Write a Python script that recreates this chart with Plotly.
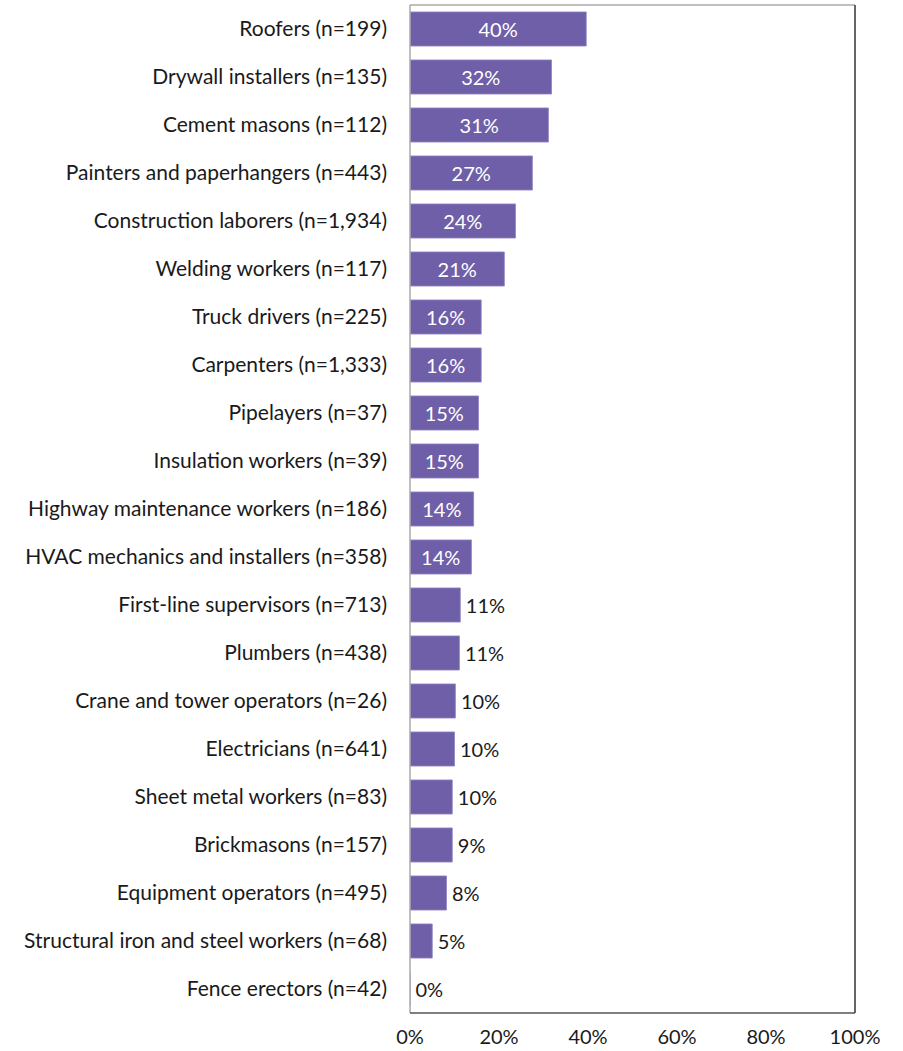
import plotly.graph_objects as go

categories = [
    "Roofers (n=199)", "Drywall installers (n=135)", "Cement masons (n=112)",
    "Painters and paperhangers (n=443)", "Construction laborers (n=1,934)",
    "Welding workers (n=117)", "Truck drivers (n=225)", "Carpenters (n=1,333)",
    "Pipelayers (n=37)", "Insulation workers (n=39)",
    "Highway maintenance workers (n=186)", "HVAC mechanics and installers (n=358)",
    "First-line supervisors (n=713)", "Plumbers (n=438)",
    "Crane and tower operators (n=26)", "Electricians (n=641)",
    "Sheet metal workers (n=83)", "Brickmasons (n=157)",
    "Equipment operators (n=495)", "Structural iron and steel workers (n=68)",
    "Fence erectors (n=42)",
]
values = [39.6, 31.8, 31.1, 27.5, 23.7, 21.2, 16.0, 16.0, 15.4, 15.4, 14.3, 13.8,
          11.3, 11.1, 10.2, 10.0, 9.5, 9.5, 8.2, 5.0, 0.0]
labels = ["40%", "32%", "31%", "27%", "24%", "21%", "16%", "16%", "15%", "15%",
          "14%", "14%", "11%", "11%", "10%", "10%", "10%", "9%", "8%", "5%", "0%"]
x_ticks = [0, 20, 40, 60, 80, 100]
x_tick_labels = ["0%", "20%", "40%", "60%", "80%", "100%"]

inside_threshold = 13
positions = ["inside" if v >= inside_threshold else "outside" for v in values]
templates = ["%{text}" if p == "inside" else "\u2009%{text}" for p in positions]

FONT = "Lato, 'Open Sans', sans-serif"

fig = go.Figure(go.Bar(
    x=values, y=categories, orientation="h",
    marker=dict(color="#6F5FA8", line=dict(color="#8F84C0", width=0.8)),
    text=labels, texttemplate=templates, textposition=positions,
    insidetextanchor="middle",
    insidetextfont=dict(color="white", size=20, family=FONT),
    outsidetextfont=dict(color="#1a1a1a", size=20, family=FONT),
    textangle=0,
    cliponaxis=False,
    width=0.71,
    hoverinfo="skip",
))

fig.update_layout(
    width=903, height=1051,
    margin=dict(l=410, r=48, t=5, b=38, autoexpand=False),
    paper_bgcolor="white", plot_bgcolor="white",
    showlegend=False,
    font=dict(family=FONT, size=20, color="#1a1a1a"),
    xaxis=dict(range=[0, 100], tickvals=x_ticks, ticktext=x_tick_labels,
               showgrid=False, zeroline=False, showline=False, ticks="",
               automargin=False,
               ticklabelstandoff=10, tickfont=dict(size=20, family=FONT)),
    yaxis=dict(categoryorder="array", categoryarray=categories[::-1],
               showgrid=False, zeroline=False, showline=False, ticks="",
               automargin=False,
               ticklabelstandoff=22, tickfont=dict(size=21, family=FONT)),
    shapes=[
        dict(type="line", xref="paper", yref="paper", x0=0, x1=1, y0=1, y1=1,
             line=dict(color="#AAAAAA", width=1.5)),
        dict(type="line", xref="paper", yref="paper", x0=0, x1=0, y0=0, y1=1,
             line=dict(color="#AAAAAA", width=1.5)),
        dict(type="line", xref="paper", yref="paper", x0=1, x1=1, y0=0, y1=1,
             line=dict(color="#333333", width=1.5)),
        dict(type="line", xref="paper", yref="paper", x0=0, x1=1, y0=0, y1=0,
             line=dict(color="#555555", width=1.5)),
    ],
)

fig.write_html("out.html", config={"displayModeBar": False},
               post_script="document.body.style.margin='0';")
